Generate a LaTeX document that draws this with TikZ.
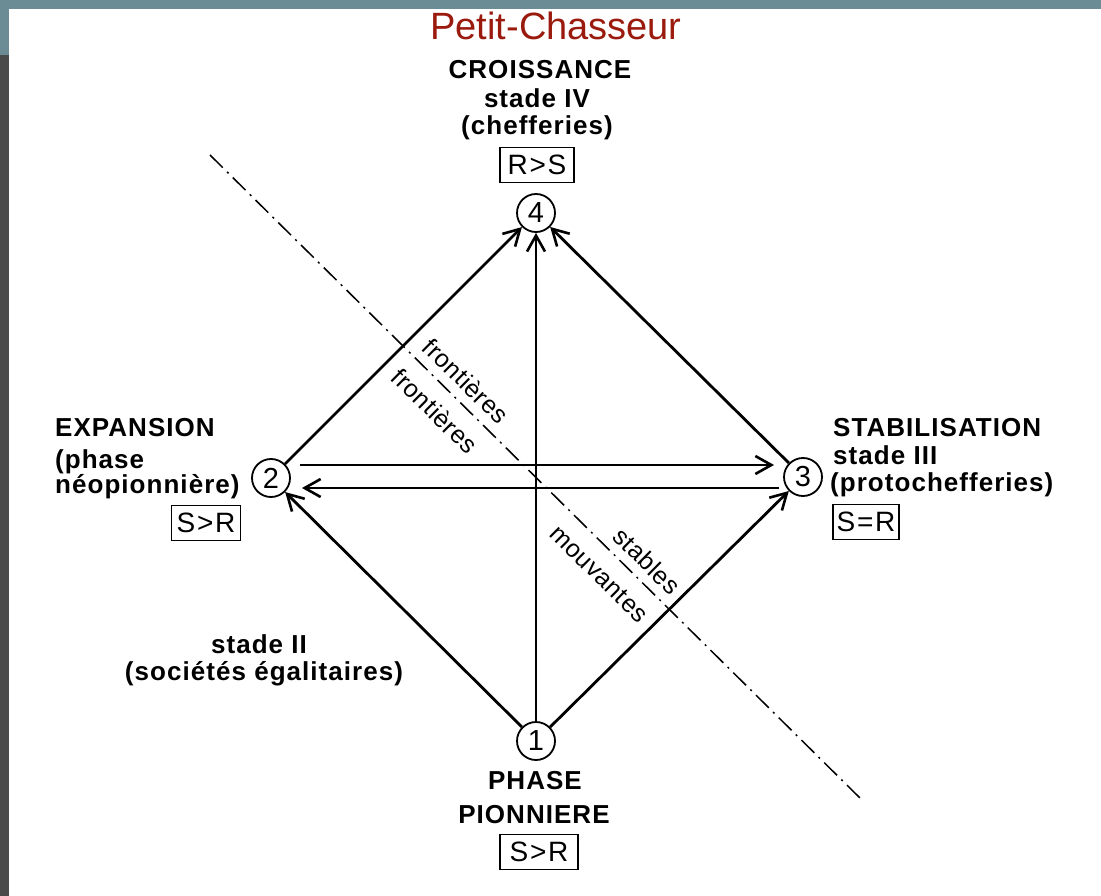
\documentclass[tikz,border=0pt]{standalone}
\usepackage{fontspec}
\setmainfont{Liberation Sans}
\newfontfamily\lsfont[LetterSpace=4]{Liberation Sans}
\newfontfamily\lsbox[LetterSpace=6]{Liberation Sans}
\newfontfamily\lsthin[LetterSpace=2]{Liberation Sans}
\usetikzlibrary{arrows.meta,calc}
\definecolor{barcol}{HTML}{6C8C95}
\definecolor{stripcol}{HTML}{4A4A4A}
\definecolor{titlered}{HTML}{9A1A0E}
\tikzset{
  numc/.style={circle, draw, line width=1.8pt, minimum size=38pt, inner sep=0pt, font=\fontsize{29}{29}\selectfont},
  arr/.style={line width=2.8pt, -{Straight Barb[length=16pt,width=18pt,line width=2.6pt]}},
  head/.style={font=\lsfont\bfseries\fontsize{26}{28}\selectfont, inner sep=0pt},
  ratio/.style={draw, line width=1.9pt, minimum height=35pt, inner sep=0pt, font=\lsbox\fontsize{28}{28}\selectfont},
  diag/.style={font=\lsthin\fontsize{25}{25}\selectfont, rotate=-44.7, inner sep=0pt},
  dashdot/.style={line width=1.5pt, dash pattern=on 18pt off 6pt on 2pt off 6pt}
}
\begin{document}
\begin{tikzpicture}[x=1pt,y=-1pt]
\useasboundingbox (0,0) rectangle (1101,896);
\fill[white] (0,0) rectangle (1101,896);
\fill[barcol] (0,0) rectangle (1101,9);
\fill[barcol] (0,0) rectangle (9,55);
\fill[stripcol] (0,55) rectangle (9,896);

% title
\node[font=\fontsize{38}{38}\selectfont, text=titlered, anchor=base] (title) at (556,40) {Petit-Chasseur};

% dash-dot line
\coordinate (dd1) at (210,155);
\coordinate (dd2) at (862,800);
\draw[dashdot] (dd1) -- (dd2);

% circles
\node[numc] (n4) at (536,213) {4};
\node[numc] (n2) at (271,478) {2};
\node[numc] (n3) at (803,477) {3};
\node[numc] (n1) at (536,741) {1};

% arrows
\draw[arr] (n2) -- (n4);
\draw[arr] (n3) -- (n4);
\draw[arr] (n1) -- (n4);
\draw[arr] (n1) -- (n2);
\draw[arr] (n1) -- (n3);
\coordinate (h1s) at (300,465);
\coordinate (h1e) at (774,465);
\coordinate (h2s) at (779,488);
\coordinate (h2e) at (302,488);
\draw[arr] (h1s) -- (h1e);
\draw[arr] (h2s) -- (h2e);

% top labels
\node[head, anchor=base] (t1) at (540,79) {CROISSANCE};
\node[head, anchor=base] (t2) at (537,108) {stade IV};
\node[head, anchor=base] (t3) at (537,135) {(chefferies)};
\node[ratio, minimum width=74pt] (b4) at (537,165) {R>S};

% left labels
\node[head, anchor=base west] (l1) at (55,436) {EXPANSION};
\node[head, anchor=base west] (l2) at (55,468) {(phase};
\node[head, anchor=base west] (l3) at (55,493) {néopionnière)};
\node[ratio, minimum width=69pt] (b2) at (206,523) {S>R};

% right labels
\node[head, anchor=base west] (r1) at (833,436) {STABILISATION};
\node[head, anchor=base west] (r2) at (833,464) {stade III};
\node[head, anchor=base west] (r3) at (830,491) {(protochefferies)};
\node[ratio, minimum width=66pt] (b3) at (866,522) {S=R};

% stade II
\node[head, anchor=base] (s1) at (259,653) {stade II};
\node[head, anchor=base] (s2) at (264,680) {(sociétés égalitaires)};

% bottom labels
\node[head, anchor=base] (p1) at (535,789) {PHASE};
\node[head, anchor=base] (p2) at (534,823) {PIONNIERE};
\node[ratio, minimum width=78pt] (b1) at (539,852) {S>R};

% diagonal labels
\node[diag] (f1) at (466,381) {frontières};
\node[diag] (f2) at (435,411) {frontières};
\node[diag] (st) at (647,561) {stables};
\node[diag] (mv) at (599,574) {mouvantes};
\end{tikzpicture}
\end{document}
